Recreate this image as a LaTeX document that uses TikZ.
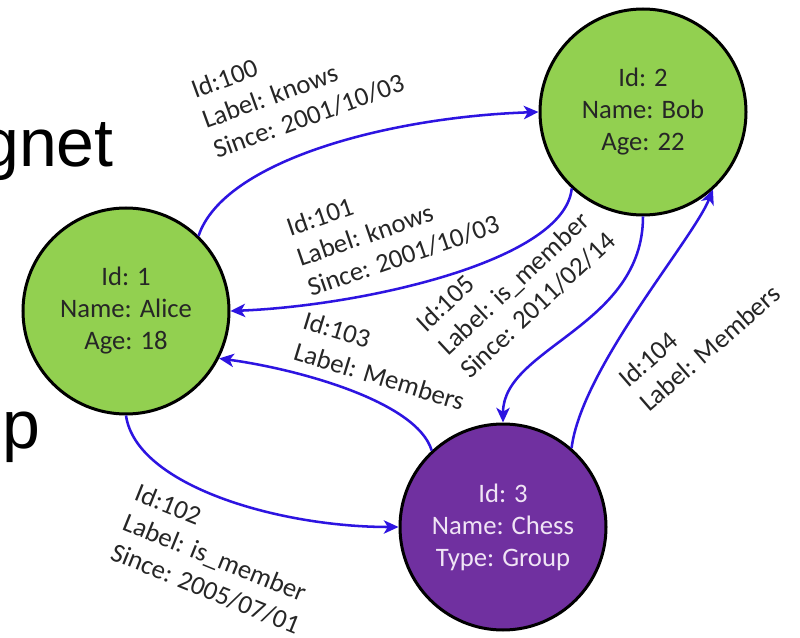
\documentclass[tikz,border=0pt]{standalone}
\usepackage{fontspec}
\setmainfont{Carlito}
\newfontfamily\arialfont{Liberation Sans}
\usetikzlibrary{arrows.meta}
\definecolor{nodegreen}{HTML}{92D050}
\definecolor{nodepurple}{HTML}{7030A0}
\definecolor{edgeblue}{RGB}{45,20,225}
\definecolor{lighttext}{RGB}{240,228,245}
\begin{document}
\begin{tikzpicture}[x=0.75pt,y=-0.75pt,
  vertex/.style={circle, draw=black, line width=2.25pt, minimum size=154.5pt, inner sep=0pt, align=center, font=\fontsize{20pt}{24pt}\selectfont},
  person/.style={vertex, fill=nodegreen, text=black!85},
  group/.style={vertex, fill=nodepurple, text=lighttext},
  edge/.style={draw=edgeblue, line width=1.9pt, -{Stealth[length=11pt,width=10pt,inset=3pt]}},
  elabel/.style={align=left, anchor=base west, inner sep=0pt, text=black!85, font=\fontsize{20pt}{24pt}\selectfont},
  bigtext/.style={anchor=base west, inner sep=0pt, text=black, font=\arialfont\fontsize{51pt}{60pt}\selectfont}
]
\useasboundingbox (0,0) rectangle (800,638);
\fill[white] (0,0) rectangle (800,638);

\node[bigtext] (t1) at (-19,167) {gnet};
\node[bigtext] (t2) at (-36,448) {pp};

\node[person] (alice) at (126,311) {Id: 1\\Name: Alice\\Age: 18};
\node[person] (bob) at (643,112) {Id: 2\\Name: Bob\\Age: 22};
\node[group] (chess) at (503,527) {Id: 3\\Name: Chess\\Type: Group};

\draw[edge] (alice.46) .. controls +(25,-75) and +(-150,5) .. (bob.180);
\draw[edge] (bob.227) .. controls +(-7,73) and +(130,-5) .. (alice.0);
\draw[edge] (chess.133) .. controls +(-15,-50) and +(75,10) .. (alice.-27);
\draw[edge] (alice.270) .. controls +(10,70) and +(-120,0) .. (chess.180);
\draw[edge] (bob.270) .. controls +(0,110) and +(0,-75) .. (chess.90);
\draw[edge] (chess.49) .. controls +(10,-80) and +(-20,50) .. (bob.-48);

\node[elabel, rotate=20] (l100) at (217,159) {Id:100\\Label: knows\\Since: 2001/10/03};
\node[elabel, rotate=19] (l101) at (311,297) {Id:101\\Label: knows\\Since: 2001/10/03};
\node[elabel, rotate=-17] (l103) at (292,359) {Id:103\\Label: Members};
\node[elabel, rotate=-22] (l102) at (109,559) {Id:102\\Label: is\_member\\Since: 2005/07/01};
\node[elabel, rotate=43] (l105) at (470,380) {Id:105\\Label: is\_member\\Since: 2011/02/14};
\node[elabel, rotate=41] (l104) at (649,413) {Id:104\\Label: Members};
\end{tikzpicture}
\end{document}
